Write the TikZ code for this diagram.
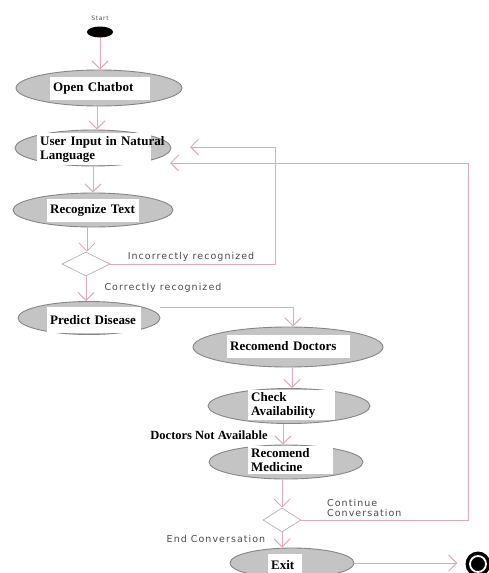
\documentclass[tikz,border=0pt]{standalone}
\usepackage{fontspec}
\setmainfont{Liberation Serif}
\newfontfamily\lblfont[LetterSpace=11]{DejaVu Sans}
\usetikzlibrary{shapes.geometric,arrows.meta}
\definecolor{flow}{HTML}{E4A6BA}
\definecolor{actfill}{HTML}{C4C4C4}
\definecolor{actline}{HTML}{858585}
\definecolor{lbl}{HTML}{4A4A4A}
\hyphenpenalty=10000
\hfuzz=100pt
\begin{document}
\begin{tikzpicture}[x=1pt,y=-1pt,
  act/.style={ellipse, draw=actline, fill=actfill, line width=0.9pt, inner sep=0pt},
  tbox/.style={fill=white, inner xsep=3pt, inner ysep=2pt, align=left, anchor=west,
    minimum height=23pt, font=\fontsize{13}{14}\selectfont\bfseries},
  dec/.style={diamond, draw=actline!70, fill=white, line width=0.6pt, inner sep=0pt},
  flowarr/.style={draw=flow, line width=1pt, -{Straight Barb[length=8pt,width=16pt]}},
  guard/.style={font=\fontsize{9.5}{10}\lblfont, text=lbl, inner sep=0pt, align=left}
]
\useasboundingbox (0,0) rectangle (489,573);

% start marker
\node[fill=black, ellipse, minimum width=26pt, minimum height=11pt, inner sep=0pt] (start) at (100,32) {};
\node[font=\fontsize{6}{7}\lblfont, text=lbl, inner sep=0pt] (startlbl) at (100,18) {Start};

% activities
\node[act, minimum width=166pt, minimum height=36pt] (openchat) at (99,88) {};
\node[tbox, text width=94pt] (openchatT) at (50,88) {Open Chatbot};

\node[act, minimum width=156pt, minimum height=36pt] (userin) at (93,148) {};
\node[tbox, text width=108pt, minimum height=32pt] (userinT) at (37,149) {\mbox{User Input in Natural}\\Language};

\node[act, minimum width=160pt, minimum height=34pt] (recog) at (93,210) {};
\node[tbox, text width=86pt] (recogT) at (47,210) {Recognize Text};

\node[dec, minimum width=48pt, minimum height=24pt] (dec1) at (86,264) {};

\node[act, minimum width=142pt, minimum height=33pt] (predict) at (89,318) {};
\node[tbox, text width=88pt, minimum height=26pt] (predictT) at (47,320) {Predict Disease};

\node[act, minimum width=190pt, minimum height=40pt] (recdoc) at (288,347) {};
\node[tbox, text width=117pt] (recdocT) at (227,346) {Recomend Doctors};

\node[act, minimum width=162pt, minimum height=35pt] (check) at (289,406) {};
\node[tbox, text width=81pt, minimum height=27pt] (checkT) at (248,405) {Check\\Availability};

\node[act, minimum width=154pt, minimum height=34pt] (medicine) at (286,462) {};
\node[tbox, text width=79pt, minimum height=28pt] (medicineT) at (248,460) {Recomend\\Medicine};

\node[dec, minimum width=38pt, minimum height=24pt] (dec2) at (282,520) {};

\node[act, minimum width=124pt, minimum height=30pt] (exit) at (292,563) {};
\node[tbox, text width=28pt] (exitT) at (268,565) {Exit};

% end marker
\node[circle, fill=black, minimum size=25pt, inner sep=0pt] (end) at (478,564) {};
\node[circle, draw=white, line width=1.8pt, minimum size=16pt, inner sep=0pt] (endring) at (end) {};

% guards
\node[guard] (gIncorrect) at (191,257) {Incorrectly recognized};
\node[guard] (gCorrect) at (163,288) {Correctly recognized};
\node[font=\fontsize{12.5}{14}\selectfont\bfseries, inner sep=0pt] (gNoDoc) at (209,435) {Doctors Not Available};
\node[guard, anchor=west] (gContinue) at (327,508) {Continue\\Conversation};
\node[guard] (gEnd) at (216,539) {End Conversation};

% main flow
\draw[flowarr] (start.south) -- (start.south |- openchat.north);
\draw[flowarr] ([xshift=-2pt]openchat.south) -- ([xshift=-2pt]openchat.south |- userin.north);
\draw[flowarr] (userin.south) -- (userin.south |- recog.north);
\draw[flowarr] ([xshift=-6pt]recog.south) -- ([xshift=-6pt]recog.south |- dec1.north);
\draw[flowarr] (dec1.south) -- (dec1.south |- predict.north);
\draw[flowarr] ([yshift=11pt]predict.east) -| ([xshift=5pt]recdoc.north);
\draw[flowarr] ([xshift=4pt]recdoc.south) -- ([xshift=4pt]recdoc.south |- check.north);
\draw[flowarr] ([xshift=-6pt]check.south) -- ([xshift=-6pt]check.south |- medicine.north);
\draw[flowarr] (medicine.south -| dec2.north) -- (dec2.north);
\draw[flowarr] (dec2.south) -- (dec2.south |- exit.north);
\draw[flowarr, shorten >=8pt] (exit.east) -- (end.west |- exit.east);

% loops back to the user input
\coordinate (retA) at (190,147);
\coordinate (retB) at (170,163);
\draw[flowarr] (dec1.east) -- (275,264) |- (retA);
\draw[flowarr] (dec2.east) -- (468,520) |- (retB);
\end{tikzpicture}
\end{document}
